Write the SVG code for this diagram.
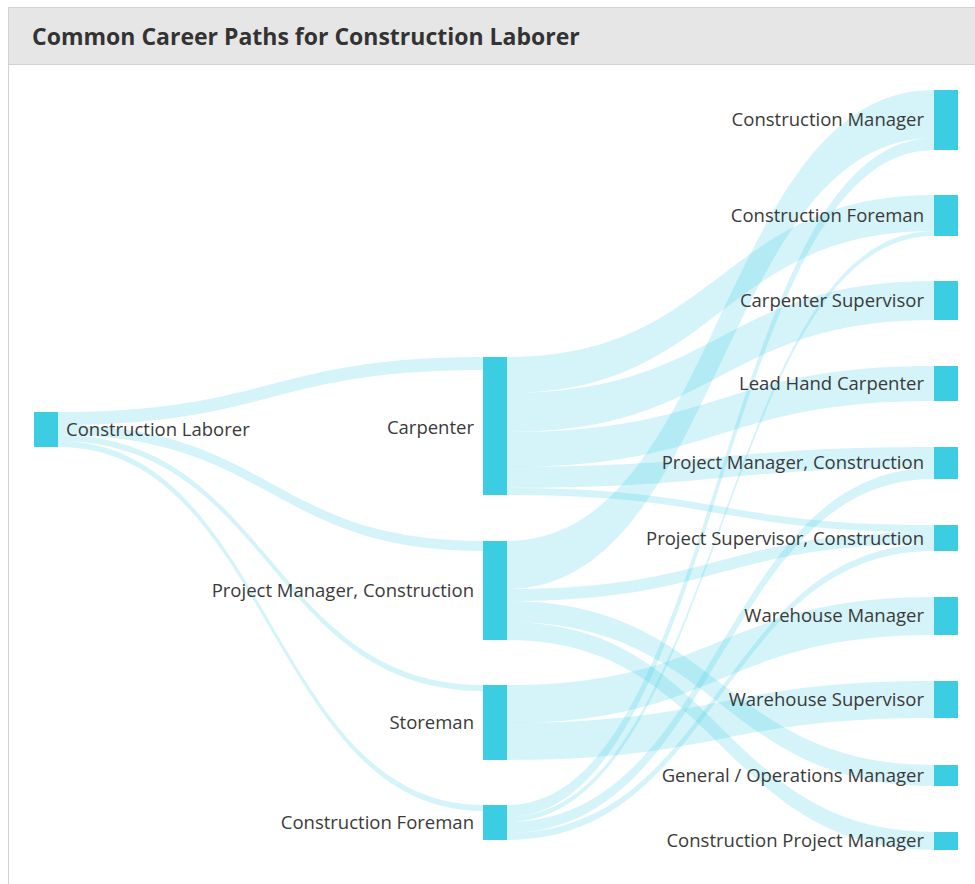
<svg xmlns="http://www.w3.org/2000/svg" width="975" height="884" viewBox="0 0 975 884">
<style>
.bg{fill:#ffffff}
.hdr{fill:#e6e6e6}
.bd{stroke:#d2d2d2;stroke-width:1;fill:none}
.title{font-family:"Open Sans","Liberation Sans",sans-serif;font-weight:bold;font-size:23px;fill:#333333}
.node rect{fill:#3ccde3}
.node text{font-family:"Open Sans","Liberation Sans",sans-serif;font-size:18.5px;fill:#3a3a3a}
.r text{text-anchor:end}
.link{fill:#3ccde3;fill-opacity:0.22}
</style>
<rect class="bg" x="0" y="0" width="975" height="884"/>
<rect class="hdr" x="8" y="8" width="967" height="56"/>
<line class="bd" x1="8" y1="64.5" x2="975" y2="64.5"/>
<line class="bd" x1="8.5" y1="8" x2="8.5" y2="884"/>
<line class="bd" x1="8" y1="7.5" x2="975" y2="7.5"/>
<text class="title" x="32" y="45">Common Career Paths for Construction Laborer</text>

<g id="connectors">
<path class="link" d="M58,412 C270.5,412 270.5,357 483,357 L483,370 C270.5,370 270.5,425 58,425 Z"/>
<path class="link" d="M58,425 C270.5,425 270.5,541 483,541 L483,551 C270.5,551 270.5,435 58,435 Z"/>
<path class="link" d="M58,435 C270.5,435 270.5,685 483,685 L483,691 C270.5,691 270.5,441 58,441 Z"/>
<path class="link" d="M58,441 C270.5,441 270.5,805 483,805 L483,811 C270.5,811 270.5,447 58,447 Z"/>
<path class="link" d="M507,357 C720.5,357 720.5,195 934,195 L934,231 C720.5,231 720.5,393 507,393 Z"/>
<path class="link" d="M507,393 C720.5,393 720.5,281 934,281 L934,320 C720.5,320 720.5,432 507,432 Z"/>
<path class="link" d="M507,432 C720.5,432 720.5,366 934,366 L934,401 C720.5,401 720.5,467 507,467 Z"/>
<path class="link" d="M507,467 C720.5,467 720.5,447 934,447 L934,468 C720.5,468 720.5,488 507,488 Z"/>
<path class="link" d="M507,488 C720.5,488 720.5,525 934,525 L934,532 C720.5,532 720.5,495 507,495 Z"/>
<path class="link" d="M507,541 C720.5,541 720.5,90 934,90 L934,138 C720.5,138 720.5,589 507,589 Z"/>
<path class="link" d="M507,589 C720.5,589 720.5,532 934,532 L934,544 C720.5,544 720.5,601 507,601 Z"/>
<path class="link" d="M507,601 C720.5,601 720.5,765 934,765 L934,786 C720.5,786 720.5,622 507,622 Z"/>
<path class="link" d="M507,622 C720.5,622 720.5,832 934,832 L934,850 C720.5,850 720.5,640 507,640 Z"/>
<path class="link" d="M507,685 C720.5,685 720.5,597 934,597 L934,635 C720.5,635 720.5,723 507,723 Z"/>
<path class="link" d="M507,723 C720.5,723 720.5,681 934,681 L934,718 C720.5,718 720.5,760 507,760 Z"/>
<path class="link" d="M507,805 C720.5,805 720.5,138 934,138 L934,150 C720.5,150 720.5,817 507,817 Z"/>
<path class="link" d="M507,817 C720.5,817 720.5,231 934,231 L934,236 C720.5,236 720.5,822 507,822 Z"/>
<path class="link" d="M507,822 C720.5,822 720.5,468 934,468 L934,479 C720.5,479 720.5,833 507,833 Z"/>
<path class="link" d="M507,833 C720.5,833 720.5,544 934,544 L934,551 C720.5,551 720.5,840 507,840 Z"/>
</g>

<g id="n-laborer" class="node"><rect x="34" y="412" width="24" height="35"/><text x="66" y="436">Construction Laborer</text></g>
<g id="n-carpenter" class="node r"><rect x="483" y="357" width="24" height="138"/><text x="474" y="434">Carpenter</text></g>
<g id="n-pm-mid" class="node r"><rect x="483" y="541" width="24" height="99"/><text x="474" y="597">Project Manager, Construction</text></g>
<g id="n-storeman" class="node r"><rect x="483" y="685" width="24" height="75"/><text x="474" y="729">Storeman</text></g>
<g id="n-foreman-mid" class="node r"><rect x="483" y="805" width="24" height="35"/><text x="474" y="829">Construction Foreman</text></g>

<g id="n-cm" class="node r"><rect x="934" y="90" width="24" height="60"/><text x="924" y="126">Construction Manager</text></g>
<g id="n-cf" class="node r"><rect x="934" y="195" width="24" height="41"/><text x="924" y="222">Construction Foreman</text></g>
<g id="n-cs" class="node r"><rect x="934" y="281" width="24" height="39"/><text x="924" y="307">Carpenter Supervisor</text></g>
<g id="n-lhc" class="node r"><rect x="934" y="366" width="24" height="35"/><text x="924" y="390">Lead Hand Carpenter</text></g>
<g id="n-pmc" class="node r"><rect x="934" y="447" width="24" height="32"/><text x="924" y="469">Project Manager, Construction</text></g>
<g id="n-psc" class="node r"><rect x="934" y="525" width="24" height="26"/><text x="924" y="545">Project Supervisor, Construction</text></g>
<g id="n-wm" class="node r"><rect x="934" y="597" width="24" height="38"/><text x="924" y="622">Warehouse Manager</text></g>
<g id="n-ws" class="node r"><rect x="934" y="681" width="24" height="37"/><text x="924" y="706">Warehouse Supervisor</text></g>
<g id="n-gom" class="node r"><rect x="934" y="765" width="24" height="21"/><text x="924" y="782">General / Operations Manager</text></g>
<g id="n-cpm" class="node r"><rect x="934" y="832" width="24" height="18"/><text x="924" y="847">Construction Project Manager</text></g>
</svg>
